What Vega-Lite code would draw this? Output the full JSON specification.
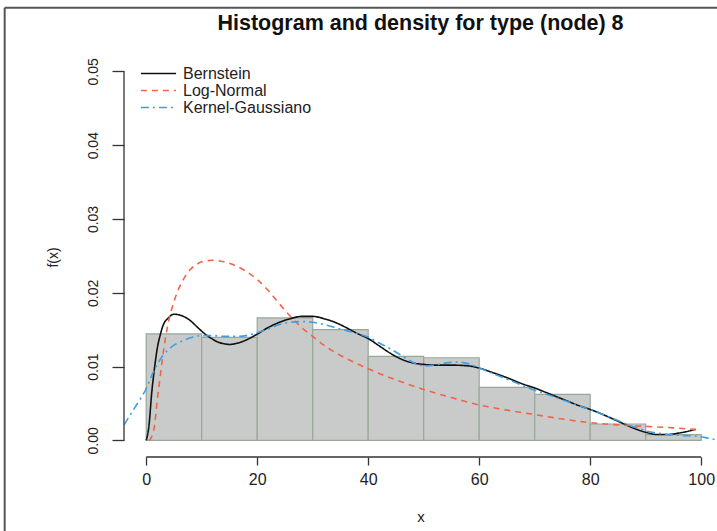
{
  "$schema": "https://vega.github.io/schema/vega-lite/v6.json",
  "width": 593,
  "height": 400,
  "autosize": {"type": "none"},
  "padding": {"left": 124, "top": 57, "right": 0, "bottom": 74},
  "background": "white",
  "config": {
    "view": {"stroke": null},
    "font": "Liberation Sans",
    "axis": {"grid": false, "domain": false, "tickColor": "#333", "labelColor": "#222", "titleColor": "#222", "labelFont": "Liberation Sans", "titleFont": "Liberation Sans", "titleFontWeight": "normal"}
  },
  "title": {"text": "Histogram and density for type (node) 8", "fontSize": 21.5, "fontWeight": "bold", "font": "Liberation Sans", "color": "#111", "anchor": "middle", "offset": -28},
  "datasets": {
    "one": [{}],
    "bins": [
      {"start": 0, "end": 10, "density": 0.01442},
      {"start": 10, "end": 20, "density": 0.01396},
      {"start": 20, "end": 30, "density": 0.01659},
      {"start": 30, "end": 40, "density": 0.0150},
      {"start": 40, "end": 50, "density": 0.01138},
      {"start": 50, "end": 60, "density": 0.0112},
      {"start": 60, "end": 70, "density": 0.00718},
      {"start": 70, "end": 80, "density": 0.00623},
      {"start": 80, "end": 90, "density": 0.00222},
      {"start": 90, "end": 100, "density": 0.00077}
    ],
    "curves": [
      {"series": "Bernstein", "x": 0, "y": 0},
      {"series": "Bernstein", "x": 0.5, "y": 0.002},
      {"series": "Bernstein", "x": 1, "y": 0.0065},
      {"series": "Bernstein", "x": 1.5, "y": 0.0098},
      {"series": "Bernstein", "x": 2, "y": 0.0125},
      {"series": "Bernstein", "x": 2.5, "y": 0.0142},
      {"series": "Bernstein", "x": 3, "y": 0.0155},
      {"series": "Bernstein", "x": 4, "y": 0.0166},
      {"series": "Bernstein", "x": 5, "y": 0.0171},
      {"series": "Bernstein", "x": 6, "y": 0.017},
      {"series": "Bernstein", "x": 7, "y": 0.0167},
      {"series": "Bernstein", "x": 8, "y": 0.0162},
      {"series": "Bernstein", "x": 9, "y": 0.0155},
      {"series": "Bernstein", "x": 10, "y": 0.0148},
      {"series": "Bernstein", "x": 11, "y": 0.0142},
      {"series": "Bernstein", "x": 12, "y": 0.0137},
      {"series": "Bernstein", "x": 13, "y": 0.0133},
      {"series": "Bernstein", "x": 14, "y": 0.0131},
      {"series": "Bernstein", "x": 15, "y": 0.013},
      {"series": "Bernstein", "x": 16, "y": 0.0131},
      {"series": "Bernstein", "x": 17, "y": 0.0133},
      {"series": "Bernstein", "x": 18, "y": 0.0136},
      {"series": "Bernstein", "x": 20, "y": 0.0144},
      {"series": "Bernstein", "x": 22, "y": 0.0153},
      {"series": "Bernstein", "x": 24, "y": 0.016},
      {"series": "Bernstein", "x": 26, "y": 0.0165},
      {"series": "Bernstein", "x": 28, "y": 0.0168},
      {"series": "Bernstein", "x": 30, "y": 0.0168},
      {"series": "Bernstein", "x": 32, "y": 0.0165},
      {"series": "Bernstein", "x": 34, "y": 0.016},
      {"series": "Bernstein", "x": 36, "y": 0.0153},
      {"series": "Bernstein", "x": 38, "y": 0.0145},
      {"series": "Bernstein", "x": 40, "y": 0.0138},
      {"series": "Bernstein", "x": 42, "y": 0.0128},
      {"series": "Bernstein", "x": 44, "y": 0.0118},
      {"series": "Bernstein", "x": 46, "y": 0.011},
      {"series": "Bernstein", "x": 48, "y": 0.0105},
      {"series": "Bernstein", "x": 50, "y": 0.0103},
      {"series": "Bernstein", "x": 52, "y": 0.0102},
      {"series": "Bernstein", "x": 55, "y": 0.0102},
      {"series": "Bernstein", "x": 58, "y": 0.0101},
      {"series": "Bernstein", "x": 60, "y": 0.0098},
      {"series": "Bernstein", "x": 62, "y": 0.0093},
      {"series": "Bernstein", "x": 65, "y": 0.0085},
      {"series": "Bernstein", "x": 68, "y": 0.0076},
      {"series": "Bernstein", "x": 70, "y": 0.0071},
      {"series": "Bernstein", "x": 72, "y": 0.0065},
      {"series": "Bernstein", "x": 75, "y": 0.0056},
      {"series": "Bernstein", "x": 78, "y": 0.0047},
      {"series": "Bernstein", "x": 80, "y": 0.0042},
      {"series": "Bernstein", "x": 82, "y": 0.0036},
      {"series": "Bernstein", "x": 85, "y": 0.0026},
      {"series": "Bernstein", "x": 88, "y": 0.0016},
      {"series": "Bernstein", "x": 90, "y": 0.0011},
      {"series": "Bernstein", "x": 92, "y": 0.0008},
      {"series": "Bernstein", "x": 94, "y": 0.0008},
      {"series": "Bernstein", "x": 96, "y": 0.001},
      {"series": "Bernstein", "x": 98, "y": 0.0013},
      {"series": "Bernstein", "x": 99, "y": 0.0015},
      {"series": "Log-Normal", "x": 0.5, "y": 0},
      {"series": "Log-Normal", "x": 1, "y": 0.0005},
      {"series": "Log-Normal", "x": 1.5, "y": 0.002},
      {"series": "Log-Normal", "x": 2, "y": 0.0055},
      {"series": "Log-Normal", "x": 2.5, "y": 0.0085},
      {"series": "Log-Normal", "x": 3, "y": 0.0115},
      {"series": "Log-Normal", "x": 4, "y": 0.016},
      {"series": "Log-Normal", "x": 5, "y": 0.0188},
      {"series": "Log-Normal", "x": 6, "y": 0.0208},
      {"series": "Log-Normal", "x": 7, "y": 0.0222},
      {"series": "Log-Normal", "x": 8, "y": 0.0232},
      {"series": "Log-Normal", "x": 9, "y": 0.0238},
      {"series": "Log-Normal", "x": 10, "y": 0.0242},
      {"series": "Log-Normal", "x": 12, "y": 0.0244},
      {"series": "Log-Normal", "x": 14, "y": 0.0242},
      {"series": "Log-Normal", "x": 16, "y": 0.0237},
      {"series": "Log-Normal", "x": 18, "y": 0.0229},
      {"series": "Log-Normal", "x": 20, "y": 0.0218},
      {"series": "Log-Normal", "x": 22, "y": 0.0203},
      {"series": "Log-Normal", "x": 24, "y": 0.0185},
      {"series": "Log-Normal", "x": 26, "y": 0.0168},
      {"series": "Log-Normal", "x": 28, "y": 0.0153},
      {"series": "Log-Normal", "x": 30, "y": 0.0141},
      {"series": "Log-Normal", "x": 32, "y": 0.0129},
      {"series": "Log-Normal", "x": 35, "y": 0.0115},
      {"series": "Log-Normal", "x": 38, "y": 0.0104},
      {"series": "Log-Normal", "x": 40, "y": 0.0097},
      {"series": "Log-Normal", "x": 45, "y": 0.0082},
      {"series": "Log-Normal", "x": 50, "y": 0.0069},
      {"series": "Log-Normal", "x": 55, "y": 0.0058},
      {"series": "Log-Normal", "x": 60, "y": 0.0048},
      {"series": "Log-Normal", "x": 65, "y": 0.0041},
      {"series": "Log-Normal", "x": 70, "y": 0.0035},
      {"series": "Log-Normal", "x": 75, "y": 0.0029},
      {"series": "Log-Normal", "x": 80, "y": 0.0024},
      {"series": "Log-Normal", "x": 85, "y": 0.0021},
      {"series": "Log-Normal", "x": 90, "y": 0.0019},
      {"series": "Log-Normal", "x": 95, "y": 0.0017},
      {"series": "Log-Normal", "x": 100, "y": 0.0014},
      {"series": "Kernel-Gaussiano", "x": -4, "y": 0.0021},
      {"series": "Kernel-Gaussiano", "x": -3, "y": 0.0033},
      {"series": "Kernel-Gaussiano", "x": -2, "y": 0.0045},
      {"series": "Kernel-Gaussiano", "x": -1, "y": 0.0057},
      {"series": "Kernel-Gaussiano", "x": 0, "y": 0.007},
      {"series": "Kernel-Gaussiano", "x": 1, "y": 0.0088},
      {"series": "Kernel-Gaussiano", "x": 2, "y": 0.0103},
      {"series": "Kernel-Gaussiano", "x": 3, "y": 0.0115},
      {"series": "Kernel-Gaussiano", "x": 4, "y": 0.0123},
      {"series": "Kernel-Gaussiano", "x": 5, "y": 0.0129},
      {"series": "Kernel-Gaussiano", "x": 6, "y": 0.0133},
      {"series": "Kernel-Gaussiano", "x": 8, "y": 0.0139},
      {"series": "Kernel-Gaussiano", "x": 10, "y": 0.0142},
      {"series": "Kernel-Gaussiano", "x": 12, "y": 0.0142},
      {"series": "Kernel-Gaussiano", "x": 14, "y": 0.0141},
      {"series": "Kernel-Gaussiano", "x": 16, "y": 0.0141},
      {"series": "Kernel-Gaussiano", "x": 18, "y": 0.0142},
      {"series": "Kernel-Gaussiano", "x": 20, "y": 0.0146},
      {"series": "Kernel-Gaussiano", "x": 22, "y": 0.0151},
      {"series": "Kernel-Gaussiano", "x": 24, "y": 0.0157},
      {"series": "Kernel-Gaussiano", "x": 26, "y": 0.016},
      {"series": "Kernel-Gaussiano", "x": 28, "y": 0.0161},
      {"series": "Kernel-Gaussiano", "x": 30, "y": 0.016},
      {"series": "Kernel-Gaussiano", "x": 32, "y": 0.0157},
      {"series": "Kernel-Gaussiano", "x": 34, "y": 0.0153},
      {"series": "Kernel-Gaussiano", "x": 36, "y": 0.0149},
      {"series": "Kernel-Gaussiano", "x": 38, "y": 0.0145},
      {"series": "Kernel-Gaussiano", "x": 40, "y": 0.014},
      {"series": "Kernel-Gaussiano", "x": 42, "y": 0.0132},
      {"series": "Kernel-Gaussiano", "x": 44, "y": 0.0124},
      {"series": "Kernel-Gaussiano", "x": 46, "y": 0.0115},
      {"series": "Kernel-Gaussiano", "x": 48, "y": 0.0106},
      {"series": "Kernel-Gaussiano", "x": 50, "y": 0.0101},
      {"series": "Kernel-Gaussiano", "x": 52, "y": 0.0102},
      {"series": "Kernel-Gaussiano", "x": 54, "y": 0.0105},
      {"series": "Kernel-Gaussiano", "x": 56, "y": 0.0106},
      {"series": "Kernel-Gaussiano", "x": 58, "y": 0.0104},
      {"series": "Kernel-Gaussiano", "x": 60, "y": 0.0098},
      {"series": "Kernel-Gaussiano", "x": 62, "y": 0.0092},
      {"series": "Kernel-Gaussiano", "x": 65, "y": 0.0083},
      {"series": "Kernel-Gaussiano", "x": 68, "y": 0.0074},
      {"series": "Kernel-Gaussiano", "x": 70, "y": 0.0068},
      {"series": "Kernel-Gaussiano", "x": 72, "y": 0.0063},
      {"series": "Kernel-Gaussiano", "x": 75, "y": 0.0055},
      {"series": "Kernel-Gaussiano", "x": 78, "y": 0.0047},
      {"series": "Kernel-Gaussiano", "x": 80, "y": 0.0042},
      {"series": "Kernel-Gaussiano", "x": 82, "y": 0.0036},
      {"series": "Kernel-Gaussiano", "x": 85, "y": 0.0027},
      {"series": "Kernel-Gaussiano", "x": 88, "y": 0.0018},
      {"series": "Kernel-Gaussiano", "x": 90, "y": 0.0013},
      {"series": "Kernel-Gaussiano", "x": 92, "y": 0.001},
      {"series": "Kernel-Gaussiano", "x": 94, "y": 0.0008},
      {"series": "Kernel-Gaussiano", "x": 96, "y": 0.0007},
      {"series": "Kernel-Gaussiano", "x": 98, "y": 0.0006},
      {"series": "Kernel-Gaussiano", "x": 100, "y": 0.0005},
      {"series": "Kernel-Gaussiano", "x": 102, "y": 0.0002},
      {"series": "Kernel-Gaussiano", "x": 103, "y": 0.0001}
    ]
  },
  "layer": [
    {
      "data": {"name": "bins"},
      "mark": {"type": "bar", "fill": "#c9cbcb", "stroke": "#98a898", "strokeWidth": 1.2},
      "encoding": {
        "x": {"field": "start", "type": "quantitative", "scale": {"domain": [-4, 102.85], "nice": false, "zero": false},
          "axis": {"values": [0, 20, 40, 60, 80, 100], "tickSize": 8, "tickWidth": 1.3, "labelFontSize": 16, "labelPadding": 6, "title": "x", "titleFontSize": 15, "titlePadding": 22}},
        "x2": {"field": "end"},
        "y": {"field": "density", "type": "quantitative", "scale": {"domain": [-0.00225, 0.05195], "nice": false, "zero": false},
          "axis": {"values": [0, 0.01, 0.02, 0.03, 0.04, 0.05], "format": ".2f", "tickSize": 12, "tickWidth": 1.3, "labelFontSize": 14, "labelAngle": 270, "labelAlign": "center", "labelBaseline": "bottom", "labelPadding": 12, "title": "f(x)", "titleFontSize": 14, "titlePadding": 26}},
        "y2": {"datum": 0}
      }
    },
    {
      "data": {"name": "curves"},
      "mark": {"type": "line", "strokeWidth": 1.6, "interpolate": "monotone", "clip": true},
      "encoding": {
        "x": {"field": "x", "type": "quantitative"},
        "y": {"field": "y", "type": "quantitative"},
        "detail": {"field": "series"},
        "color": {"field": "series", "type": "nominal", "scale": {"domain": ["Bernstein", "Log-Normal", "Kernel-Gaussiano"], "range": ["#111111", "#f0654a", "#3d9fe3"]},
          "legend": {"title": null, "orient": "none", "legendX": 25.5, "legendY": 7.5, "symbolType": "M-2.2,0H2.2", "symbolSize": 256, "symbolStrokeWidth": 1.6, "labelFontSize": 16, "labelFont": "Liberation Sans", "labelColor": "#222", "labelOffset": 15.5, "rowPadding": 0, "padding": 0}},
        "strokeDash": {"field": "series", "type": "nominal", "scale": {"domain": ["Bernstein", "Log-Normal", "Kernel-Gaussiano"], "range": [[1, 0], [6, 5], [8, 4, 2, 4]]},
          "legend": {"title": null, "orient": "none", "legendX": 25.5, "legendY": 7.5, "symbolType": "M-2.2,0H2.2", "symbolSize": 256, "symbolStrokeWidth": 1.6, "labelFontSize": 16, "labelFont": "Liberation Sans", "labelColor": "#222", "labelOffset": 15.5, "rowPadding": 0, "padding": 0}}
      }
    },
    {
      "data": {"name": "one"},
      "mark": {"type": "rule", "color": "#333", "strokeWidth": 1.3},
      "encoding": {"x": {"datum": 0}, "x2": {"datum": 100}, "y": {"datum": -0.00225}}
    },
    {
      "data": {"name": "one"},
      "mark": {"type": "rule", "color": "#333", "strokeWidth": 1.3},
      "encoding": {"x": {"datum": -4}, "y": {"datum": 0}, "y2": {"datum": 0.05}}
    },
    {
      "data": {"name": "one"},
      "mark": {"type": "rule", "color": "#555", "strokeWidth": 2},
      "encoding": {"x": {"datum": -25.5}, "y": {"datum": 0.05863}, "y2": {"datum": -0.0125}}
    },
    {
      "data": {"name": "one"},
      "mark": {"type": "rule", "color": "#555", "strokeWidth": 2},
      "encoding": {"x": {"datum": -25.5}, "x2": {"datum": 102.85}, "y": {"datum": 0.05863}}
    }
  ]
}
